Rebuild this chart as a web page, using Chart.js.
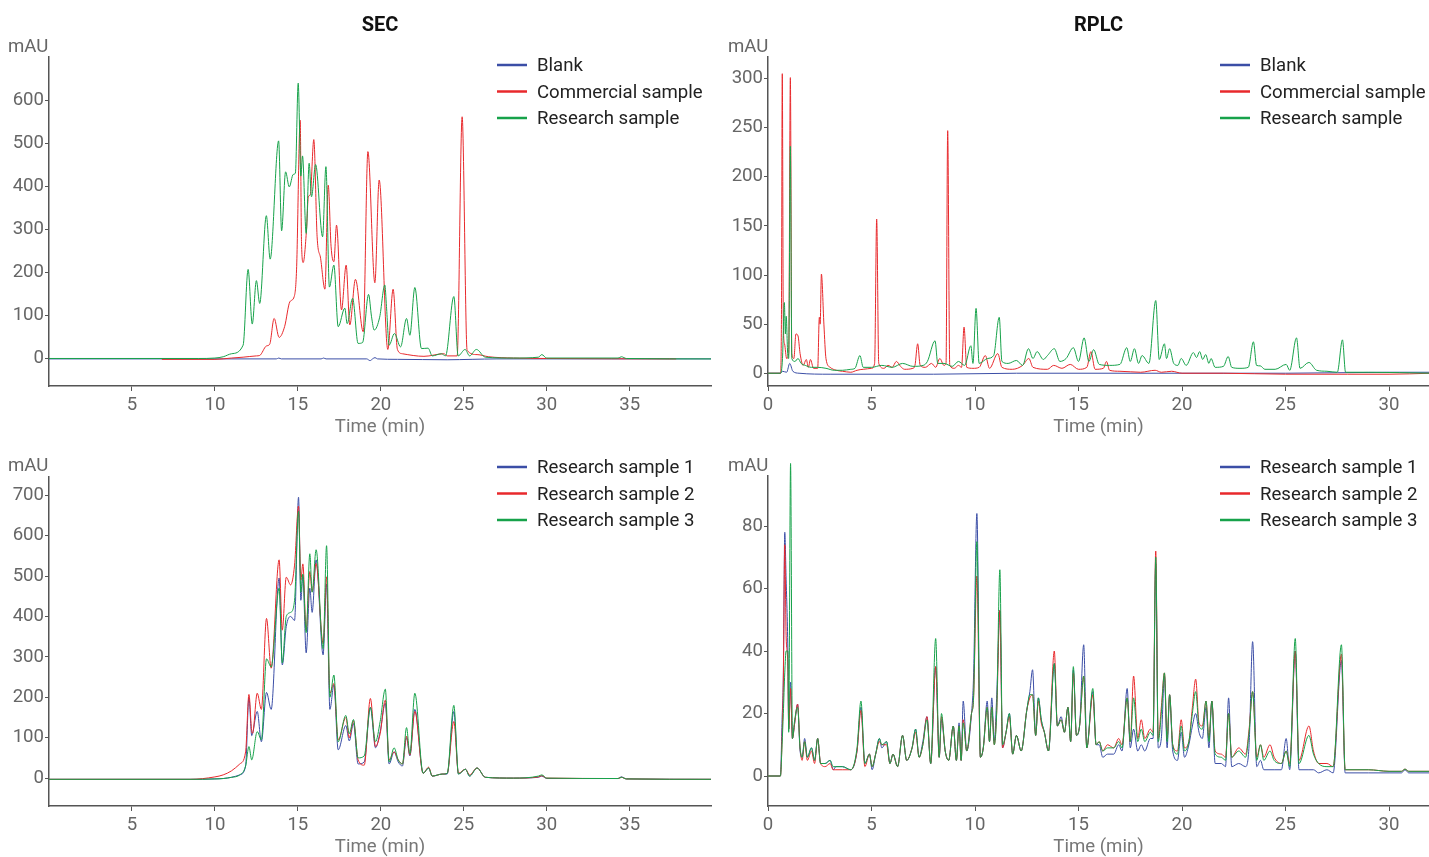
<!DOCTYPE html>
<html>
<head>
<meta charset="utf-8">
<script src="https://cdn.jsdelivr.net/npm/chart.js@4.4.1/dist/chart.umd.min.js"></script>
<style>
  body { margin: 0; background: #fff; width: 1429px; height: 857px; position: relative; overflow: hidden; }
  canvas { position: absolute; }
</style>
</head>
<body>
<canvas id="secTop" width="720" height="440" style="left:0;top:0"></canvas>
<canvas id="rplcTop" width="709" height="440" style="left:720px;top:0"></canvas>
<canvas id="secBottom" width="720" height="417" style="left:0;top:440px"></canvas>
<canvas id="rplcBottom" width="709" height="417" style="left:720px;top:440px"></canvas>
<script>
// colours
const BLUE = '#3b4ea6', RED = '#e8292c', GREEN = '#17a24a';

// axis ticks
const secTimeTicks = [5, 10, 15, 20, 25, 30, 35];
const rplcTimeTicks = [0, 5, 10, 15, 20, 25, 30];
const secTopTicks = [0, 100, 200, 300, 400, 500, 600];
const rplcTopTicks = [0, 50, 100, 150, 200, 250, 300];
const secBottomTicks = [0, 100, 200, 300, 400, 500, 600, 700];
const rplcBottomTicks = [0, 20, 40, 60, 80];

// ---- SEC, top panel ----
const secBlankT = [0, 13.7, 13.85, 14.0, 16.4, 16.55, 16.7, 19.15, 19.35, 19.5, 19.65, 19.8, 21, 24, 25.5, 27, 40];
const secBlankY = [-2, -2, 0, -2, -2, 0, -2, -2, -6, -2, 1, -2, -3, -4, -3, -2, -2];

const secCommT = [6.8, 10, 11, 11.7, 12.5, 12.7, 13.1, 13.3, 13.57, 13.87, 14.2, 14.52, 14.78, 14.92, 15.14, 15.22, 15.32,
  15.52, 15.63, 15.75, 15.96, 16.16, 16.37, 16.63, 16.83, 17.0, 17.17, 17.33, 17.63, 17.91, 18.13, 18.47, 18.94,
  19.22, 19.64, 19.9, 20.42, 20.74, 21.0, 21.3, 22.6, 23.8, 24.0, 24.6, 24.9, 25.2, 25.8, 26.5, 28, 30, 37.8];
const secCommY = [-3, -3, 0, 2, 5, 6, 28, 32, 92, 48, 73, 131, 143, 205, 553, 267, 222,
  298, 375, 380, 508, 282, 232, 160, 402, 260, 224, 309, 112, 216, 77, 183, 61,
  480, 175, 414, 20, 160, 20, 10, 4, 10, 5, 5, 561, 18, 8, 3, 0, -1, -2];

const secResT = [0, 9, 10, 10.5, 11, 11.7, 12.0, 12.25, 12.5, 12.7, 13.1, 13.33, 13.84, 14.02, 14.26, 14.48, 14.72, 14.85,
  15.02, 15.18, 15.28, 15.5, 15.68, 15.82, 16.07, 16.49, 16.69, 16.9, 17.17, 17.43, 17.83, 17.97, 18.3, 18.63, 18.9,
  19.26, 19.44, 19.6, 19.93, 20.24, 20.34, 20.5, 20.82, 21.19, 21.55, 21.75, 22.05, 22.45, 22.85, 23.1, 23.65, 23.9,
  24.4, 24.66, 25.08, 25.35, 25.76, 26.3, 28, 29.5, 29.7, 30.0, 34.3, 34.5, 34.8, 40];
const secResY = [-1, -1, 0, 3, 10, 30, 206, 79, 180, 127, 331, 230, 505, 296, 433, 398, 427, 430,
  639, 423, 470, 290, 453, 375, 450, 282, 445, 165, 216, 73, 116, 80, 139, 34, 36,
  148, 96, 65, 95, 170, 120, 30, 57, 26, 92, 53, 164, 22, 23, 5, 10, 5,
  143, 5, 20, 5, 20, 2, 0, 2, 8, 0, 0, 3, -1, -2];

// ---- RPLC, top panel ----
const rpBlankT = [0, 0.6, 0.7, 0.9, 1.05, 1.2, 1.5, 3, 8, 12, 20, 25, 30, 32];
const rpBlankY = [0, 0, 2, 1, 10, 2, 0, -1, -1, 0, 0, 0, 1, 1];

const rpCommT = [0, 0.6, 0.65, 0.69, 0.74, 0.8, 0.9, 1.0, 1.08, 1.15, 1.25, 1.35, 1.45, 1.55, 1.7, 1.85, 1.95, 2.05, 2.2,
  2.4, 2.48, 2.52, 2.58, 2.7, 2.8, 3.0, 3.3, 3.6, 4.0, 4.3, 4.6, 5.0, 5.15, 5.25, 5.35, 5.6, 5.8, 6.0, 6.2, 6.4, 6.6,
  7.0, 7.1, 7.23, 7.35, 7.6, 7.9, 8.1, 8.3, 8.5, 8.6, 8.68, 8.78, 9.0, 9.2, 9.35, 9.47, 9.6, 9.9, 10.2, 10.5, 10.7,
  11.1, 11.3, 11.8, 12.3, 12.6, 12.8, 13.5, 13.8, 14.2, 14.6, 15.0, 15.4, 15.6, 15.8, 16.2, 16.35, 16.5, 17, 18,
  18.7, 19, 19.5, 20, 22, 25, 28, 30, 32];
const rpCommY = [0, 0, 60, 305, 50, 30, 15, 20, 301, 20, 15, 40, 38, 20, 8, 14, 6, 14, 5,
  5, 57, 50, 101, 50, 15, 6, 3, 2, 1, 3, 4, 5, 10, 157, 10, 5, 8, 6, 12, 7, 4,
  5, 8, 30, 8, 6, 10, 6, 15, 8, 10, 247, 8, 5, 8, 6, 47, 6, 5, 6, 18, 5,
  20, 6, 4, 8, 15, 6, 4, 8, 5, 9, 4, 6, 22, 4, 5, 12, 3, 2, 1,
  3, 1, 2, 0, 0, -1, -1, -1, 0];

const rpResT = [0, 0.6, 0.7, 0.79, 0.84, 0.88, 0.95, 1.0, 1.08, 1.15, 1.3, 1.45, 1.6, 1.8, 2.1, 2.4, 2.8, 3.2, 3.6, 4.0,
  4.2, 4.44, 4.6, 5.0, 5.5, 6.0, 6.5, 7.0, 7.5, 7.7, 8.07, 8.2, 8.5, 8.9, 9.2, 9.5, 9.8, 9.9, 10.05, 10.2, 10.6, 10.9,
  11.17, 11.3, 11.6, 12.0, 12.3, 12.58, 12.8, 13.0, 13.3, 13.5, 13.83, 14.1, 14.4, 14.75, 15.0, 15.27, 15.5, 15.73,
  16.0, 16.5, 17.0, 17.33, 17.5, 17.7, 17.9, 18.07, 18.4, 18.73, 18.9, 19.15, 19.25, 19.4, 19.6, 19.8, 19.96, 20.2,
  20.55, 20.7, 20.85, 21.0, 21.14, 21.3, 21.4, 21.6, 22.0, 22.23, 22.4, 22.8, 23.2, 23.45, 23.6, 23.78, 24.0, 24.5,
  25.03, 25.2, 25.53, 25.7, 26.13, 26.5, 27.0, 27.5, 27.75, 27.9, 29, 32];
const rpResY = [0, 0, 15, 72, 40, 58, 20, 15, 231, 15, 12, 15, 10, 8, 6, 6, 5, 3, 3, 4,
  5, 18, 6, 6, 8, 6, 10, 7, 8, 12, 33, 10, 10, 7, 12, 8, 28, 10, 66, 10, 15, 18,
  57, 12, 10, 13, 8, 25, 15, 22, 14, 18, 25, 12, 15, 26, 12, 36, 12, 24,
  9, 8, 9, 26, 12, 25, 10, 18, 10, 74, 14, 30, 15, 25, 10, 8, 15, 8,
  21, 16, 22, 14, 19, 10, 15, 6, 7, 17, 6, 5, 6, 32, 8, 7.5, 4, 4,
  9, 3, 36, 5, 11, 3, 2, 1, 34, 1, 1, 0];

// ---- SEC, bottom panel (replicates) ----
const secRepT = [0, 8.5, 10.0, 10.5, 11.0, 11.5, 11.85, 12.05, 12.22, 12.27, 12.55, 12.8, 13.11, 13.39, 13.87, 14.06,
  14.3, 14.56, 14.8, 15.04, 15.18, 15.3, 15.5, 15.72, 15.86, 16.1, 16.52, 16.73, 16.93, 17.17, 17.43, 17.89, 18.1,
  18.35, 18.63, 19.0, 19.37, 19.68, 19.96, 20.27, 20.5, 20.8, 21.05, 21.3, 21.55, 21.75, 22.05, 22.55, 22.88, 23.1,
  23.7, 24.0, 24.4, 24.68, 25.1, 25.35, 25.8, 26.3, 28, 29.5, 29.7, 30.0, 34.3, 34.5, 34.8, 40];
const secRep1 = [-3, -3, -2, -1, 2, 8, 30, 200, 105, 110, 165, 90, 212, 170, 495, 280,
  375, 400, 390, 695, 440, 500, 310, 470, 410, 540, 305, 480, 170, 230, 70, 130, 92,
  135, 35, 40, 175, 75, 115, 185, 35, 65, 40, 30, 100, 55, 170, 12, 25, 5,
  10, 10, 165, 10, 22, 5, 25, 2, 0, 2, 5, -1, -1, 3, -2, -3];
const secRep2 = [-3, -3, 3, 8, 18, 35, 65, 207, 115, 111, 210, 170, 395, 272, 540, 366,
  497, 478, 527, 673, 490, 530, 366, 511, 461, 531, 333, 498, 210, 234, 94, 150, 100,
  142, 45, 32, 197, 78, 110, 193, 45, 65, 45, 35, 104, 57, 165, 12, 27, 5,
  10, 12, 140, 12, 22, 8, 25, 2, 0, 3, 6, 0, -1, 2, -2, -3];
const secRep3 = [-3, -3, -2, -1, 2, 8, 30, 78, 45, 50, 115, 95, 295, 275, 470, 285,
  400, 410, 440, 660, 460, 505, 360, 555, 460, 565, 320, 575, 200, 255, 90, 155, 110,
  145, 50, 55, 175, 90, 140, 220, 40, 75, 45, 35, 125, 60, 210, 12, 25, 5,
  10, 12, 180, 10, 22, 5, 25, 2, 0, 5, 8, 0, -1, 2, -2, -3];

// ---- RPLC, bottom panel (replicates) ----
const rpRepT = [0, 0.6, 0.68, 0.74, 0.81, 0.875, 0.96, 1.0, 1.09, 1.18, 1.29, 1.43, 1.55, 1.65, 1.77, 1.9, 2.1, 2.25,
  2.4, 2.54, 2.76, 3.0, 3.15, 3.28, 3.59, 4.0, 4.3, 4.49, 4.68, 4.9, 5.03, 5.2, 5.38, 5.5, 5.73, 5.89, 6.04, 6.26,
  6.5, 6.7, 6.96, 7.13, 7.3, 7.48, 7.68, 7.86, 8.1, 8.27, 8.38, 8.56, 8.73, 8.95, 9.1, 9.23, 9.33, 9.43, 9.6, 9.83,
  9.93, 10.09, 10.26, 10.4, 10.59, 10.7, 10.81, 10.93, 11.05, 11.2, 11.33, 11.5, 11.66, 11.82, 12.0, 12.23, 12.5,
  12.65, 12.78, 12.93, 13.06, 13.2, 13.35, 13.55, 13.83, 13.98, 14.16, 14.32, 14.49, 14.62, 14.75, 14.9, 15.05,
  15.25, 15.4, 15.69, 15.85, 16.0, 16.17, 16.4, 16.7, 16.94, 17.1, 17.35, 17.5, 17.66, 17.86, 18.03, 18.2, 18.47,
  18.6, 18.73, 18.85, 19.0, 19.15, 19.28, 19.4, 19.55, 19.78, 19.96, 20.12, 20.33, 20.5, 20.66, 20.82, 20.98, 21.16,
  21.3, 21.44, 21.6, 21.9, 22.1, 22.25, 22.4, 22.74, 23.07, 23.24, 23.41, 23.61, 23.79, 23.95, 24.25, 24.45, 24.8,
  25.03, 25.2, 25.47, 25.65, 26.13, 26.35, 26.6, 27.0, 27.3, 27.7, 27.88, 29.0, 30.0, 30.6, 30.77, 30.95, 32.0];
const rpRep1 = [0, 0, 18, 32, 78, 63, 40, 15, 30, 12, 17, 23, 8, 6, 12, 6, 9, 5,
  12, 4, 4, 5, 2, 3, 3, 2, 8, 22, 4, 7, 2, 7, 12, 9, 11, 4, 7, 3,
  13, 5, 9, 15, 6, 11, 19, 4, 35, 6, 18, 8, 5, 16, 5, 17, 5, 24, 8, 20,
  32, 84, 6, 9, 24, 11, 25, 11, 26, 53, 9, 14, 20, 7, 13, 8, 21,
  27, 34, 13, 25, 18, 14, 8, 36, 16, 19, 14, 22, 11, 34, 13, 16,
  42, 9, 27, 10, 10, 6, 7, 7, 10, 8, 28, 9, 15, 8, 10, 8, 12,
  12, 68, 9, 12, 32, 9, 26, 8, 5, 14, 6, 10, 16, 20, 14, 12, 22,
  9, 24, 4, 4, 3, 25, 3, 4, 3, 10, 43, 3, 5, 2, 2, 2, 2,
  12, 2, 40, 2, 2, 2, 1, 2, 1, 37, 1, 1, 1, 1, 2, 1, 1];
const rpRep2 = [0, 0, 12, 30, 74, 45, 35, 15, 28, 12, 17, 23, 9, 5, 11, 5, 8, 4,
  12, 4, 3, 4, 2, 2, 2, 2, 8, 21, 3, 7, 3, 7, 11, 10, 10, 4, 7, 3,
  13, 5, 9, 14, 6, 10, 19, 4, 35, 6, 19, 8, 5, 16, 5, 16, 5, 18, 8, 20,
  25, 64, 6, 9, 22, 11, 22, 10, 21, 53, 9, 14, 19, 7, 13, 8, 21,
  25, 26, 13, 24, 17, 14, 8, 40, 16, 18, 14, 22, 11, 33, 13, 16,
  32, 9, 26, 10, 11, 8, 10, 9, 12, 10, 25, 11, 32, 12, 18, 12, 15,
  14, 72, 12, 22, 33, 12, 26, 10, 8, 18, 9, 11, 22, 31, 17, 16, 24,
  12, 24, 8, 7, 6, 20, 6, 9, 7, 15, 27, 6, 10, 6, 10, 6, 4,
  8, 4, 40, 5, 16, 8, 4, 4, 3, 39, 2, 2, 1.5, 1.5, 2.2, 1.5, 1.5];
const rpRep3 = [0, 0, 10, 20, 33, 40, 40, 14, 100, 12, 18, 22, 9, 6, 11, 6, 9, 5,
  12, 4, 4, 5, 3, 3, 3, 2, 9, 24, 4, 7, 3, 7, 12, 10, 11, 4, 7, 3,
  13, 5, 9, 15, 6, 10, 18, 4, 44, 6, 20, 8, 5, 16, 5, 16, 5, 17, 8, 20,
  25, 75, 6, 9, 22, 11, 22, 10, 21, 66, 10, 14, 20, 7, 13, 8, 21,
  26, 26, 13, 25, 18, 14, 8, 36, 16, 18, 14, 22, 11, 35, 13, 16,
  32, 9, 28, 10, 11, 8, 9, 9, 11, 9, 25, 11, 25, 11, 15, 11, 14,
  13, 70, 11, 20, 33, 11, 26, 10, 7, 16, 8, 11, 20, 27, 16, 15, 24,
  11, 24, 7, 6, 5, 20, 6, 8, 6, 14, 27, 5, 10, 5, 8, 5, 4,
  8, 3, 44, 4, 13, 7, 4, 3, 3, 42, 2, 2, 1.5, 1.5, 2.2, 1.5, 1.5];

// ---- helpers ----
function pts(t, y) { return t.map((x, i) => ({ x: x, y: y[i] })); }

function series(label, color, t, y, order, extra) {
  return Object.assign({
    label: label,
    data: pts(t, y),
    borderColor: color,
    backgroundColor: color,
    borderWidth: 1,
    pointRadius: 0,
    cubicInterpolationMode: 'monotone',
    order: order
  }, extra || {});
}

const decor = {
  id: 'decor',
  afterDraw(chart, args, o) {
    const ctx = chart.ctx, a = chart.chartArea;
    ctx.save();
    ctx.textBaseline = 'middle';
    if (o.title) {
      ctx.font = 'bold 20px Roboto';
      ctx.fillStyle = '#111';
      ctx.textAlign = 'center';
      ctx.fillText(o.title, (a.left + a.right) / 2, 26);
    }
    ctx.font = '18.6px Roboto';
    ctx.textAlign = 'left';
    ctx.fillStyle = '#666';
    ctx.fillText('mAU', 8, o.unitY);
    chart.data.datasets.forEach((ds, i) => {
      const y = o.legendY + i * 26.5;
      ctx.strokeStyle = ds.borderColor;
      ctx.lineWidth = 2.5;
      ctx.beginPath();
      ctx.moveTo(o.legendX, y);
      ctx.lineTo(o.legendX + 30, y);
      ctx.stroke();
      ctx.fillStyle = '#222';
      ctx.fillText(ds.label, o.legendX + 40, y + 1.5);
    });
    ctx.restore();
  }
};

function makeChart(id, datasets, opt) {
  const tickFont = { family: 'Roboto', size: 18.6 };
  return new Chart(document.getElementById(id), {
    type: 'line',
    data: { datasets: datasets },
    plugins: [decor],
    options: {
      responsive: false,
      animation: false,
      devicePixelRatio: 1,
      layout: { padding: { left: 0, top: opt.top, right: opt.right, bottom: 0 } },
      plugins: {
        legend: { display: false },
        tooltip: { enabled: false },
        decor: { title: opt.title, unitY: opt.unitY, legendX: opt.legendX, legendY: opt.legendY }
      },
      scales: {
        x: {
          type: 'linear',
          min: 0,
          max: opt.xMax,
          afterBuildTicks: s => { s.ticks = opt.xTicks.map(v => ({ value: v })); },
          afterFit: s => { s.height = opt.xHeight; },
          grid: { drawOnChartArea: false, tickLength: 5, color: '#555' },
          border: { color: '#555', width: 1.5 },
          ticks: { font: tickFont, color: '#666', padding: 3, maxRotation: 0 },
          title: { display: true, text: 'Time (min)', font: tickFont, color: '#777', padding: { top: 0, bottom: opt.titlePad } }
        },
        y: {
          min: opt.yMin,
          max: opt.yMax,
          afterBuildTicks: s => { s.ticks = opt.yTicks.map(v => ({ value: v })); },
          afterFit: s => { s.width = opt.yWidth; },
          grid: { drawOnChartArea: false, tickLength: 4, color: '#555' },
          border: { color: '#555', width: 1.5 },
          ticks: { font: tickFont, color: '#666', padding: 1 }
        }
      }
    }
  });
}

makeChart('secTop', [
  series('Blank', BLUE, secBlankT, secBlankY, 2),
  series('Commercial sample', RED, secCommT, secCommY, 1),
  series('Research sample', GREEN, secResT, secResY, 0)
], { title: 'SEC', top: 57, right: 9, xMax: 39.9, xTicks: secTimeTicks, xHeight: 54, titlePad: 1,
     yMin: -65, yMax: 700, yTicks: secTopTicks, yWidth: 49, unitY: 47, legendX: 497, legendY: 65 });

makeChart('rplcTop', [
  series('Blank', BLUE, rpBlankT, rpBlankY, 2),
  series('Commercial sample', RED, rpCommT, rpCommY, 1),
  series('Research sample', GREEN, rpResT, rpResY, 0)
], { title: 'RPLC', top: 57, right: 0, xMax: 31.93, xTicks: rplcTimeTicks, xHeight: 54, titlePad: 1,
     yMin: -13, yMax: 322, yTicks: rplcTopTicks, yWidth: 48, unitY: 47, legendX: 500, legendY: 65 });

makeChart('secBottom', [
  series('Research sample 1', BLUE, secRepT, secRep1, 2),
  series('Research sample 2', RED, secRepT, secRep2, 1),
  series('Research sample 3', GREEN, secRepT, secRep3, 0)
], { title: '', top: 37, right: 9, xMax: 39.9, xTicks: secTimeTicks, xHeight: 51, titlePad: -2,
     yMin: -69, yMax: 745, yTicks: secBottomTicks, yWidth: 49, unitY: 26, legendX: 497, legendY: 27 });

makeChart('rplcBottom', [
  series('Research sample 1', BLUE, rpRepT, rpRep1, 2),
  series('Research sample 2', RED, rpRepT, rpRep2, 1),
  series('Research sample 3', GREEN, rpRepT, rpRep3, 0, { clip: false })
], { title: '', top: 36, right: 0, xMax: 31.93, xTicks: rplcTimeTicks, xHeight: 51, titlePad: -2,
     yMin: -9.6, yMax: 96, yTicks: rplcBottomTicks, yWidth: 48, unitY: 26, legendX: 500, legendY: 27 });
</script>
</body>
</html>
